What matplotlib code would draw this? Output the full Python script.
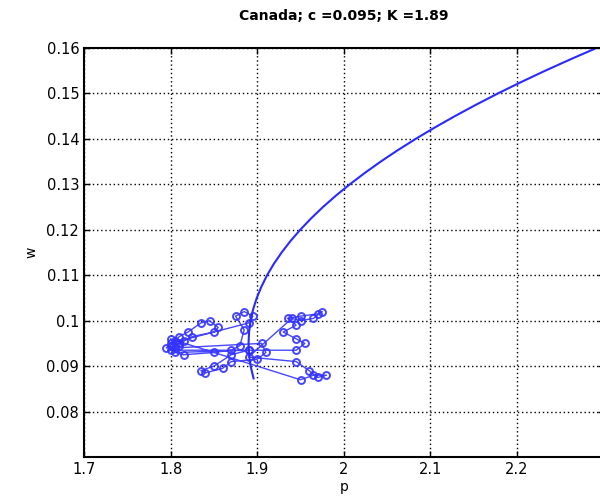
import matplotlib
matplotlib.use('Agg')
import matplotlib.pyplot as plt

# datos (p, w)
p_obs = [1.800, 1.795, 1.805, 1.810, 1.820, 1.835, 1.845, 1.855, 1.850, 1.825,
         1.810, 1.800, 1.890, 1.805, 1.815, 1.850, 1.870, 1.880, 1.885, 1.875,
         1.885, 1.895, 1.890, 1.800, 1.805, 1.905, 1.910, 1.900, 1.870, 1.860,
         1.840, 1.835, 1.850, 1.870, 1.890, 1.945, 1.955, 1.945, 1.930, 1.945,
         1.935, 1.950, 1.970, 1.975, 1.965, 1.950, 1.940, 1.890, 1.945, 1.960,
         1.970, 1.980, 1.965, 1.950, 1.800, 1.810, 1.815]
w_obs = [0.0945, 0.0940, 0.0955, 0.0965, 0.0975, 0.0995, 0.1000, 0.0985, 0.0975, 0.0965,
         0.0950, 0.0935, 0.0935, 0.0930, 0.0925, 0.0930, 0.0935, 0.0945, 0.0980, 0.1010,
         0.1020, 0.1010, 0.0995, 0.0950, 0.0940, 0.0950, 0.0930, 0.0915, 0.0910, 0.0895,
         0.0885, 0.0890, 0.0900, 0.0925, 0.0935, 0.0935, 0.0950, 0.0960, 0.0975, 0.0990,
         0.1005, 0.1010, 0.1015, 0.1020, 0.1005, 0.1000, 0.1005, 0.0920, 0.0910, 0.0890,
         0.0875, 0.0880, 0.0880, 0.0870, 0.0960, 0.0945, 0.0955]

# curva ajustada
w_curva = [0.0873, 0.0900, 0.0925, 0.0950, 0.0975, 0.1000, 0.1025, 0.1050, 0.1075,
           0.1100, 0.1125, 0.1150, 0.1175, 0.1200, 0.1225, 0.1250, 0.1275, 0.1300,
           0.1325, 0.1350, 0.1375, 0.1400, 0.1425, 0.1450, 0.1475, 0.1500, 0.1525,
           0.1550, 0.1575, 0.1600]
p_curva = [1.8958, 1.8924, 1.8906, 1.8900, 1.8906, 1.8924, 1.8953, 1.8995, 1.9049,
           1.9114, 1.9192, 1.9282, 1.9383, 1.9497, 1.9622, 1.9759, 1.9908, 2.0069,
           2.0242, 2.0426, 2.0622, 2.0830, 2.1050, 2.1282, 2.1525, 2.1780, 2.2047,
           2.2326, 2.2616, 2.2918]

titulo = 'Canada; c =0.095; K =1.89'
xticks = [1.7, 1.8, 1.9, 2.0, 2.1, 2.2]
xticklabels = ['1.7', '1.8', '1.9', '2', '2.1', '2.2']
yticks = [0.08, 0.09, 0.10, 0.11, 0.12, 0.13, 0.14, 0.15, 0.16]
yticklabels = ['0.08', '0.09', '0.1', '0.11', '0.12', '0.13', '0.14', '0.15', '0.16']

plt.rcParams['font.family'] = 'DejaVu Sans'

fig = plt.figure(figsize=(6.0, 5.01), dpi=100)
ax = fig.add_axes([0.14, 0.0878, 0.866, 0.8164])

ax.plot(p_obs, w_obs, 'o-', color='#3333ff', lw=1.0, ms=5, mfc='none', mew=1.4, alpha=0.9)
ax.plot(p_curva, w_curva, '-', color='#2a2aff', lw=1.5)

ax.set_xlim(1.7, 2.3)
ax.set_ylim(0.07, 0.16)
ax.set_xticks(xticks)
ax.set_xticklabels(xticklabels)
ax.set_yticks(yticks)
ax.set_yticklabels(yticklabels)
ax.tick_params(direction='in', top=True, right=True, labelsize=10.5, length=4, width=1)
for s in ax.spines.values():
    s.set_linewidth(1.5)
ax.grid(True, color='black', linestyle=(0, (1, 2)), linewidth=1.0)

ax.set_xlabel('p', fontsize=10, labelpad=2)
ax.set_ylabel('w', fontsize=10, labelpad=6)
ax.set_title(titulo, fontsize=10, fontweight='bold', pad=20)

plt.savefig('out.png', dpi=100)
plt.close()
